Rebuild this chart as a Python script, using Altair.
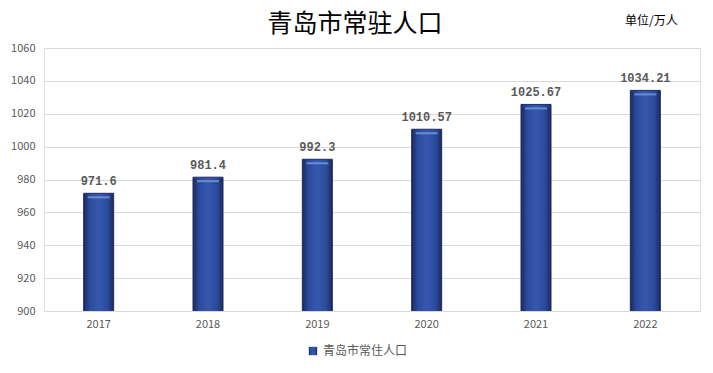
import altair as alt
import pandas as pd

years = ["2017", "2018", "2019", "2020", "2021", "2022"]
population = [971.6, 981.4, 992.3, 1010.57, 1025.67, 1034.21]
labels = ["971.6", "981.4", "992.3", "1010.57", "1025.67", "1034.21"]
series_name = "青岛市常住人口"
y_ticks = [900, 920, 940, 960, 980, 1000, 1020, 1040, 1060]

df = pd.DataFrame({"year": years, "value": population, "label": labels, "series": series_name})

cjk = "Noto Sans CJK SC"
grey = "#595959"

x_enc = alt.X("year:N", title=None, sort=years,
              axis=alt.Axis(labelAngle=0, labelColor=grey, labelFont=cjk, labelFontSize=11,
                            domain=False, ticks=False, labelPadding=7),
              scale=alt.Scale(paddingInner=0.72, paddingOuter=0.36))
y_enc = alt.Y("value:Q", title=None,
              scale=alt.Scale(domain=[900, 1060], nice=False, zero=False),
              axis=alt.Axis(values=y_ticks, format="d", labelColor=grey, labelFont=cjk,
                            labelFontSize=11, domain=False, ticks=False, gridColor="#d9d9d9",
                            labelPadding=9))

grad = alt.Gradient(gradient="linear", x1=0, x2=1, y1=0, y2=0,
                    stops=[alt.GradientStop(color="#1a2a5e", offset=0),
                           alt.GradientStop(color="#2c4a9c", offset=0.2),
                           alt.GradientStop(color="#3558ae", offset=0.5),
                           alt.GradientStop(color="#2c4a9c", offset=0.8),
                           alt.GradientStop(color="#1a2a5e", offset=1)])

base = alt.Chart(df).encode(x=x_enc, y=y_enc)

bars = base.mark_bar(size=30, fill=grad, stroke="#1d2c62", strokeWidth=1, clip=True).encode(
    opacity=alt.Opacity("series:N", scale=alt.Scale(range=[1]),
                        legend=alt.Legend(title=None, orient="none", legendX=263, legendY=297,
                                          symbolType="square", symbolFillColor="#2c4a9c",
                                          symbolStrokeColor="#1d2c62", symbolSize=70,
                                          labelFont=cjk, labelFontSize=12, labelColor=grey,
                                          symbolOpacity=1)),
)

highlight = base.mark_tick(size=22, thickness=2, color="#7fa6e6", yOffset=4)

text = base.mark_text(dy=-12, font="Liberation Mono", fontSize=12, fontWeight="bold",
                      color=grey).encode(text="label:N")

title_df = pd.DataFrame({"t": ["青岛市常驻人口"]})
title = alt.Chart(title_df).mark_text(font=cjk, fontSize=25, color="#000000", align="center",
                                      baseline="top").encode(
    x=alt.value(311), y=alt.value(-36), text="t:N")

unit_df = pd.DataFrame({"t": ["单位/万人"]})
unit = alt.Chart(unit_df).mark_text(font=cjk, fontSize=12, color="#000000",
                                    align="left", baseline="middle").encode(
    x=alt.value(581), y=alt.value(-27), text="t:N")

chart = alt.layer(bars, highlight, text, title, unit).properties(
    width=656, height=263,
    autosize=alt.AutoSizeParams(type="none"),
    padding={"left": 36, "top": 40, "right": 5, "bottom": 54},
).configure_view(stroke=None).configure(background="#ffffff")

chart.save("out.html", embed_options={"renderer": "svg", "actions": False})
